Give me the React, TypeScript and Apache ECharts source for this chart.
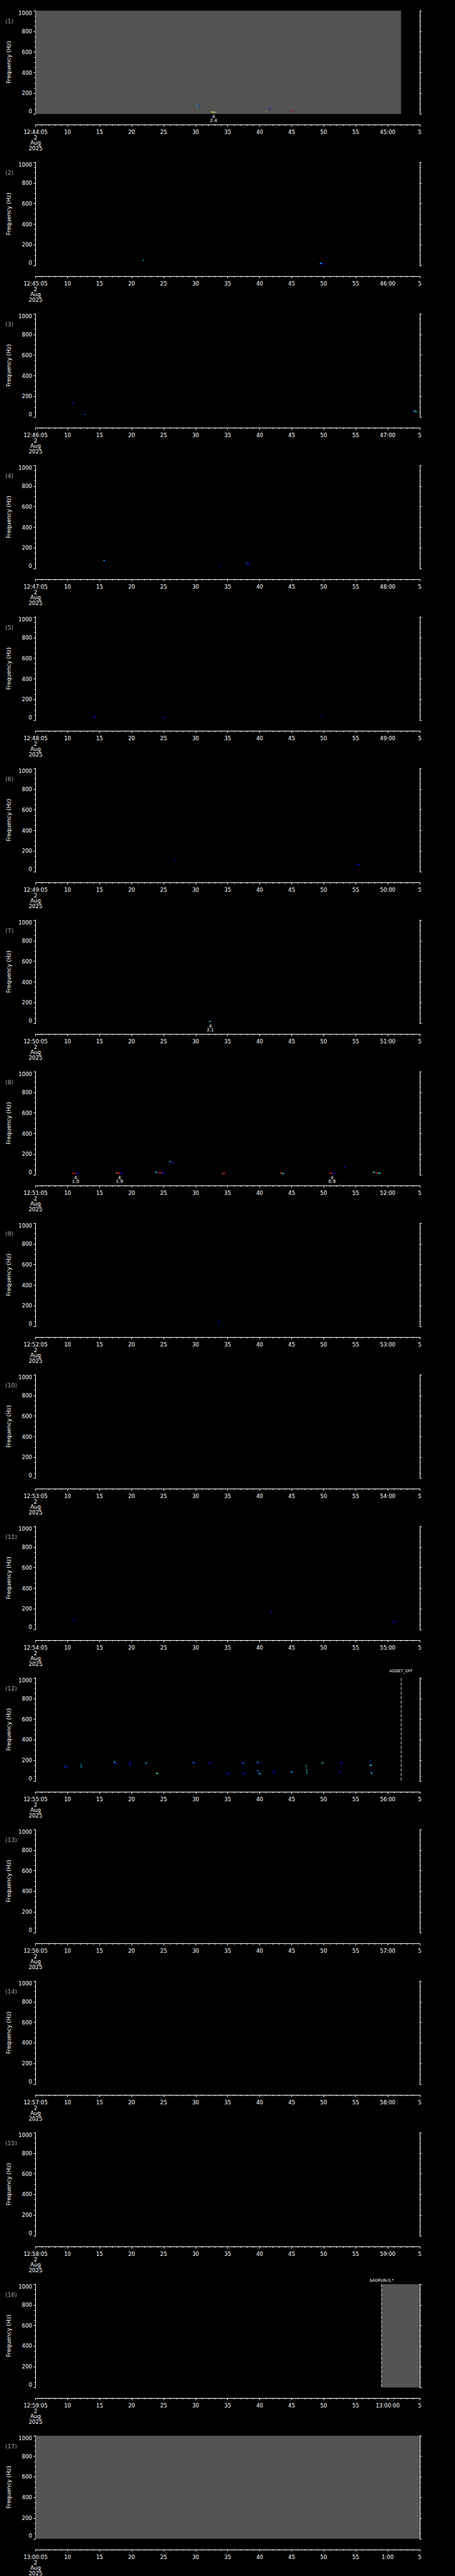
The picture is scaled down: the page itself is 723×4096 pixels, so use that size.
import React, { useEffect, useRef } from 'react';
import * as echarts from 'echarts';

const W = 723;
const H = 4096;
const S = 723 / 1024;
const FONT = '"DejaVu Sans", "Liberation Sans", sans-serif';

// ---------- data ----------
const panelLabels = ['(1)', '(2)', '(3)', '(4)', '(5)', '(6)', '(7)', '(8)', '(9)', '(10)', '(11)', '(12)', '(13)', '(14)', '(15)', '(16)', '(17)'];
const startClock = [12, 44, 5]; // first panel start, each panel is one minute
const dateLines = ['2', 'Aug', '2025'];
const freqTicks = [0, 1000];
const timeSpan = [0, 60];

// no-data cover: [panel, tStart(s), tEnd(s)]
const grayCover = [
  [0, 0, 57.1],
  [15, 54.05, 60],
  [16, 0, 60],
];

// event marks: [panel, t(s), text]
const eventMarks = [
  [11, 57.1, 'ADDET_OFF'],
  [15, 54.05, '$ADRUN,0,*'],
];

// detections under the plot: [panel, t(s), line1, line2]
const detections = [
  [0, 27.8, '4', '2.4'],
  [6, 27.3, '4', '2.1'],
  [7, 6.25, '4', '1.0'],
  [7, 13.1, '4', '1.9'],
  [7, 46.3, '4', '0.9'],
];

// spectrogram specks per panel: [t0, t1, freq(Hz), level 0..1]
const specksP01 = [[25.2, 25.35, 79, 0.38], [25.35, 25.55, 79, 0.12], [27.45, 27.7, 20, 0.5], [27.6, 27.9, 17, 0.65], [27.85, 28.05, 17, 0.8], [28.0, 28.2, 16, 0.38], [36.45, 36.65, 49, 0.12], [36.02, 36.1, 23, 0.8], [36.1, 36.18, 23, 0.62], [36.18, 36.26, 23, 0.12], [39.9, 40.2, 23, 0.95], [40.2, 40.3, 23, 0.72], [40.3, 40.45, 23, 0.12]];
const specksP02 = [[16.75, 16.9, 50, 0.38], [16.9, 17.0, 50, 0.12], [44.4, 44.75, 20, 0.38], [44.6, 45.1, 16, 0.12]];
const specksP03 = [[5.75, 6.0, 138, 0.15], [7.5, 7.85, 26, 0.18], [58.8, 59.1, 57, 0.12], [59.1, 59.35, 59, 0.45], [59.35, 59.6, 53, 0.35]];
const specksP04 = [[10.6, 10.83, 80, 0.38], [10.7, 10.85, 75, 0.15], [28.85, 29.0, 23, 0.15], [32.9, 33.2, 52, 0.2], [33.1, 33.45, 45, 0.1]];
const specksP05 = [[9.1, 9.4, 30, 0.15], [20.0, 20.3, 25, 0.15], [44.6, 44.9, 35, 0.12]];
const specksP06 = [[21.8, 22.0, 110, 0.12], [50.2, 50.6, 70, 0.15]];
const specksP07 = [[27.1, 27.25, 19, 0.38], [27.25, 27.35, 19, 0.5], [27.35, 27.47, 19, 0.12]];
const specksP08 = [[5.75, 6.25, 16, 0.85], [6.25, 6.65, 16, 0.12], [12.55, 12.7, 20, 0.5], [12.7, 13.2, 17, 0.85], [13.2, 13.6, 16, 0.12], [18.7, 19.0, 26, 0.4], [19.0, 19.2, 23, 0.12], [19.2, 19.7, 20, 0.85], [19.7, 20.15, 17, 0.12], [20.95, 21.15, 130, 0.38], [21.2, 21.4, 120, 0.15], [21.3, 21.45, 112, 0.12], [29.1, 29.2, 14, 0.55], [29.2, 29.65, 16, 0.85], [38.2, 38.5, 17, 0.78], [38.55, 38.85, 13, 0.38], [45.9, 46.35, 16, 0.85], [46.35, 46.75, 16, 0.12], [48.1, 48.35, 72, 0.15], [52.7, 53.0, 25, 0.5], [53.0, 53.2, 21, 0.2], [53.2, 53.5, 19, 0.85], [53.5, 53.9, 17, 0.38]];
const specksP09 = [[28.5, 28.75, 45, 0.12]];
const specksP10 = [];
const specksP11 = [[5.9, 6.2, 95, 0.12], [36.7, 37.0, 170, 0.15], [55.8, 56.2, 77, 0.12]];
const specksP12 = [[4.5, 4.9, 140, 0.2], [4.6, 4.9, 136, 0.1], [7.05, 7.15, 165, 0.3], [7.05, 7.15, 155, 0.3], [7.05, 7.15, 145, 0.25], [7.1, 7.25, 137, 0.35], [12.2, 12.45, 185, 0.38], [12.35, 12.55, 178, 0.12], [12.4, 12.6, 172, 0.15], [14.65, 14.8, 185, 0.15], [14.65, 14.8, 175, 0.12], [14.7, 14.85, 165, 0.12], [14.75, 14.9, 158, 0.15], [17.15, 17.45, 176, 0.3], [18.85, 19.1, 77, 0.5], [18.95, 19.15, 73, 0.35], [24.55, 24.85, 178, 0.38], [24.6, 24.9, 175, 0.15], [27.05, 27.45, 175, 0.15], [29.9, 30.0, 85, 0.15], [29.95, 30.05, 78, 0.1], [30.0, 30.3, 70, 0.15], [32.2, 32.6, 176, 0.2], [32.45, 32.55, 85, 0.15], [32.5, 32.6, 78, 0.1], [32.55, 32.85, 72, 0.15], [34.55, 34.85, 180, 0.4], [34.6, 34.9, 176, 0.15], [34.65, 34.75, 105, 0.38], [34.7, 34.8, 95, 0.3], [34.75, 34.9, 85, 0.12], [34.85, 35.2, 72, 0.35], [37.15, 37.3, 98, 0.12], [37.2, 37.35, 88, 0.1], [37.25, 37.4, 82, 0.12], [39.85, 40.1, 90, 0.38], [39.95, 40.15, 85, 0.15], [42.2, 42.35, 150, 0.38], [42.25, 42.35, 130, 0.38], [42.25, 42.4, 110, 0.4], [42.3, 42.45, 95, 0.3], [42.35, 42.5, 78, 0.38], [44.7, 44.95, 176, 0.4], [47.6, 47.9, 178, 0.12], [47.65, 47.85, 174, 0.15], [47.45, 47.6, 88, 0.12], [47.55, 47.7, 80, 0.15], [52.25, 52.4, 195, 0.12], [52.2, 52.35, 185, 0.15], [52.2, 52.45, 156, 0.5], [52.3, 52.5, 152, 0.38], [52.3, 52.45, 88, 0.15], [52.4, 52.55, 80, 0.38], [52.45, 52.6, 73, 0.3]];
const specksP13 = [];
const specksP14 = [];
const specksP15 = [];
const specksP16 = [];
const specksP17 = [];
const speckPanels = [specksP01, specksP02, specksP03, specksP04, specksP05, specksP06, specksP07, specksP08, specksP09, specksP10, specksP11, specksP12, specksP13, specksP14, specksP15, specksP16, specksP17];

// ---------- layout / style ----------
const PANEL_TOP0 = 24;
const PANEL_STEP = 341.33;
const PLOT_H = 232.7;
const PLOT_LEFT = 80;
const PLOT_W = 864.5;

const jetStops: [number, number[]][] = [
  [0, [0, 0, 143]],
  [0.125, [0, 0, 255]],
  [0.375, [0, 255, 255]],
  [0.625, [255, 255, 0]],
  [0.875, [255, 0, 0]],
  [1, [128, 0, 0]],
];
function jet(v: number) {
  for (let k = 1; k < jetStops.length; k++) {
    const [p1, c1] = jetStops[k];
    const [p0, c0] = jetStops[k - 1];
    if (v <= p1) {
      const f = (v - p0) / (p1 - p0);
      const c = c0.map((x, j) => Math.round(x + (c1[j] - x) * f));
      return `rgb(${c[0]},${c[1]},${c[2]})`;
    }
  }
  return 'rgb(128,0,0)';
}

function timeTickLabel(panel: number, v: number) {
  const total = startClock[0] * 3600 + startClock[1] * 60 + startClock[2] + panel * 60 + Math.round(v);
  const h = Math.floor(total / 3600);
  const m = Math.floor((total % 3600) / 60);
  const s = total % 60;
  const p2 = (n: number) => String(n).padStart(2, '0');
  if (v === 0) return `${h}:${p2(m)}:${p2(s)}\n${dateLines.join('\n')}`;
  if (s === 0) return m === 0 ? `${h}:${p2(m)}:${p2(s)}` : `${m}:${p2(s)}`;
  return String(s);
}

function buildOption() {
  const grid: any[] = [];
  const xAxis: any[] = [];
  const yAxis: any[] = [];
  const series: any[] = [];
  const graphic: any[] = [];
  const white = '#ffffff';

  panelLabels.forEach((lab, i) => {
    const top = (PANEL_TOP0 + i * PANEL_STEP) * S;
    grid.push({ left: PLOT_LEFT * S, top, width: PLOT_W * S, height: PLOT_H * S });
    xAxis.push({
      type: 'value', gridIndex: i, min: timeSpan[0], max: timeSpan[1], interval: 5,
      position: 'bottom', offset: 24 * S,
      axisLine: { show: true, onZero: false, lineStyle: { color: white, width: 1 } },
      axisTick: { show: true, inside: false, length: 3.2, lineStyle: { color: white, width: 1 } },
      minorTick: { show: true, splitNumber: 5, length: 1.8, lineStyle: { color: white, width: 1 } },
      splitLine: { show: false },
      axisLabel: {
        show: true, color: white, fontFamily: FONT, fontSize: 8.5, lineHeight: 8.5, margin: 8,
        showMinLabel: true, showMaxLabel: true,
        formatter: (v: number) => timeTickLabel(i, v),
      },
    });
    const yCommon = {
      type: 'value', gridIndex: i, min: freqTicks[0], max: freqTicks[1], interval: 200,
      axisLine: { show: true, onZero: false, lineStyle: { color: white, width: 1 } },
      axisTick: { show: true, inside: false, length: 3.2, lineStyle: { color: white, width: 1 } },
      minorTick: { show: true, splitNumber: 4, length: 1.8, lineStyle: { color: white, width: 1 } },
      splitLine: { show: false },
    };
    yAxis.push({
      ...yCommon, position: 'left',
      axisLabel: {
        color: white, fontFamily: FONT, fontSize: 8.5, margin: 5.5,
        formatter: (v: number) => String(v),
        verticalAlignMinLabel: 'bottom', verticalAlignMaxLabel: 'top',
      },
      name: 'Frequency (Hz)', nameLocation: 'middle', nameGap: 35, nameRotate: 90,
      nameTextStyle: { color: white, fontFamily: FONT, fontSize: 9 },
    });
    yAxis.push({ ...yCommon, position: 'right', axisLabel: { show: false } });

    // panel number
    graphic.push({
      type: 'text', x: 12 * S, y: top + 24 * S,
      style: { text: lab, fill: '#a8a8a8', font: `9px ${FONT}`, verticalAlign: 'middle', textAlign: 'left' },
    });

    // gray cover
    const covers = grayCover.filter((g) => g[0] === i).map((g) => [g[1], g[2]]);
    if (covers.length) {
      series.push({
        type: 'custom', xAxisIndex: i, yAxisIndex: 2 * i, silent: true, z: 1,
        data: covers, encode: { x: [0, 1] },
        renderItem: (_p: any, api: any) => {
          const a = api.coord([api.value(0), freqTicks[1]]);
          const b = api.coord([api.value(1), freqTicks[0]]);
          return { type: 'rect', shape: { x: a[0], y: a[1], width: b[0] - a[0], height: b[1] - a[1] }, style: { fill: '#545454' } };
        },
      });
    }

    // specks
    const sp = speckPanels[i];
    if (sp.length) {
      series.push({
        type: 'custom', xAxisIndex: i, yAxisIndex: 2 * i, silent: true, z: 3,
        data: sp, encode: { x: [0, 1], y: 2 },
        renderItem: (_p: any, api: any) => {
          const a = api.coord([api.value(0), api.value(2) + 4.5]);
          const b = api.coord([api.value(1), api.value(2) - 4.5]);
          return {
            type: 'rect',
            shape: { x: a[0], y: a[1], width: Math.max(b[0] - a[0], 1), height: Math.max(b[1] - a[1], 1) },
            style: { fill: jet(api.value(3)) },
          };
        },
      });
    }

    // event marks
    const ev = eventMarks.filter((e) => e[0] === i);
    if (ev.length) {
      series.push({
        type: 'custom', xAxisIndex: i, yAxisIndex: 2 * i, silent: true, z: 4,
        data: ev.map((e) => [e[1], freqTicks[1]]),
        renderItem: (p: any, api: any) => {
          const text = ev[p.dataIndex][2] as string;
          const a = api.coord([api.value(0), freqTicks[1]]);
          const b = api.coord([api.value(0), freqTicks[0]]);
          const lift = text === 'ADDET_OFF' ? 16.6 * S : 8.5 * S;
          return {
            type: 'group',
            children: [
              { type: 'line', shape: { x1: a[0], y1: a[1], x2: b[0], y2: b[1] }, style: { stroke: white, lineWidth: 0.8, lineDash: [5, 2.2] } },
              { type: 'text', x: a[0], y: a[1] - lift, style: { text, fill: white, font: `6.3px ${FONT}`, textAlign: 'center', verticalAlign: 'middle' } },
            ],
          };
        },
      });
    }

    // detections
    const dt = detections.filter((d) => d[0] === i);
    if (dt.length) {
      series.push({
        type: 'custom', xAxisIndex: i, yAxisIndex: 2 * i, silent: true, z: 4,
        data: dt.map((d) => [d[1], freqTicks[0]]),
        renderItem: (p: any, api: any) => {
          const d = dt[p.dataIndex];
          const a = api.coord([api.value(0), freqTicks[0]]);
          return {
            type: 'group',
            children: [
              { type: 'text', x: a[0], y: a[1] + 5.7 * S, style: { text: d[2], fill: white, font: `7.3px ${FONT}`, textAlign: 'center', verticalAlign: 'middle' } },
              { type: 'text', x: a[0], y: a[1] + 15 * S, style: { text: d[3], fill: white, font: `7.3px ${FONT}`, textAlign: 'center', verticalAlign: 'middle' } },
            ],
          };
        },
      });
    }
  });

  return {
    animation: false,
    backgroundColor: '#000000',
    textStyle: { fontFamily: FONT },
    grid, xAxis, yAxis, series, graphic,
  };
}

export default function App() {
  const ref = useRef<HTMLDivElement>(null);
  useEffect(() => {
    if (!ref.current) return;
    const chart = echarts.init(ref.current, null, { renderer: 'svg' });
    chart.setOption(buildOption() as any);
    return () => chart.dispose();
  }, []);
  return (
    <div
      ref={ref}
      style={{ position: 'absolute', left: 0, top: 0, width: W, height: H, background: '#000' }}
    />
  );
}
